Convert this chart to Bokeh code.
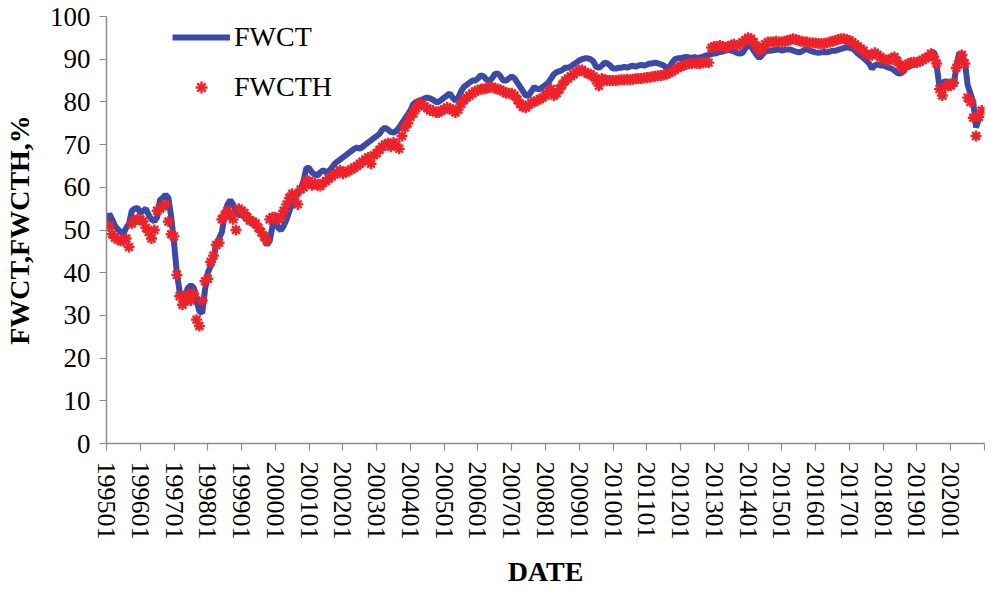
from bokeh.plotting import figure
from bokeh.models import Range1d, FixedTicker, Legend, LegendItem
from bokeh.embed import file_html
from bokeh.resources import INLINE

# ---- data (monthly, Jan 1995 .. Dec 2020) ----
fwct = [
    51.5, 53.8, 52.5, 51.0, 50.2, 49.5, 49.2, 50.5, 51.5, 54.5, 55.0, 55.2,   # 1995
    54.0, 54.5, 55.0, 53.5, 52.5, 52.0, 53.0, 57.0, 57.5, 58.3, 57.5, 53.0,   # 1996
    47.0, 40.0, 35.5, 34.5, 35.0, 36.5, 37.0, 36.5, 33.5, 31.0, 30.5, 36.0,   # 1997
    40.0, 41.5, 43.5, 46.5, 48.0, 49.5, 53.5, 56.0, 57.0, 56.0, 54.5, 53.5,   # 1998
    53.5, 53.0, 52.5, 52.0, 51.5, 51.0, 50.5, 49.5, 48.0, 46.5, 47.5, 51.0,   # 1999
    52.5, 50.5, 50.0, 51.0, 52.5, 54.5, 56.0, 57.5, 59.0, 59.5, 61.5, 64.5,   # 2000
    64.5, 63.5, 63.0, 62.8, 63.5, 64.0, 63.5, 63.8, 64.5, 65.5, 66.0, 66.5,   # 2001
    67.0, 67.5, 68.0, 68.5, 69.0, 69.3, 69.0, 69.5, 70.0, 70.5, 71.0, 71.5,   # 2002
    72.0, 72.5, 73.5, 74.0, 73.5, 73.0, 72.8, 73.2, 74.0, 75.0, 76.0, 77.0,   # 2003
    78.0, 79.5, 80.0, 80.3, 80.5, 80.8, 81.0, 80.8, 80.5, 80.0, 80.0, 80.5,   # 2004
    81.0, 81.5, 82.0, 81.0, 80.3, 81.0, 82.5, 83.5, 84.0, 84.5, 85.0, 85.0,   # 2005
    85.5, 86.2, 86.0, 85.2, 85.0, 85.5, 86.5, 86.7, 86.0, 85.0, 85.0, 85.5,   # 2006
    86.0, 85.5, 84.5, 83.5, 82.5, 81.5, 81.5, 82.5, 83.5, 83.0, 83.0, 83.5,   # 2007
    84.0, 84.5, 85.5, 86.5, 87.0, 87.2, 87.5, 88.0, 88.0, 88.3, 88.8, 89.2,   # 2008
    89.7, 90.0, 90.2, 90.2, 90.0, 89.5, 88.2, 88.0, 88.5, 89.2, 89.0, 88.5,   # 2009
    87.8, 87.8, 88.0, 88.0, 88.2, 88.0, 88.3, 88.5, 88.2, 88.5, 88.7, 88.5,   # 2010
    88.7, 89.0, 89.0, 89.2, 89.0, 88.8, 88.5, 88.0, 88.2, 89.2, 90.0, 90.2,   # 2011
    90.2, 90.4, 90.5, 90.4, 90.3, 90.5, 90.2, 90.4, 90.6, 90.9, 91.0, 91.2,   # 2012
    91.3, 91.5, 91.7, 91.8, 92.0, 92.2, 92.0, 91.8, 91.5, 91.3, 91.5, 92.5,   # 2013
    93.2, 93.0, 92.0, 91.0, 90.3, 91.0, 91.8, 92.0, 92.0, 92.1, 92.2, 92.3,   # 2014
    92.0, 92.2, 92.3, 92.3, 92.0, 91.8, 91.6, 91.8, 92.2, 92.3, 92.0, 91.8,   # 2015
    91.6, 91.5, 91.6, 91.7, 91.6, 91.8, 92.0, 92.0, 92.2, 92.4, 92.6, 92.8,   # 2016
    92.7, 92.5, 92.0, 91.3, 90.8, 90.3, 89.7, 89.0, 87.8, 88.5, 88.8, 88.5,   # 2017
    88.5, 88.3, 88.0, 87.8, 87.3, 86.8, 86.6, 87.0, 88.0, 88.2, 88.5, 88.8,   # 2018
    89.0, 89.3, 89.7, 90.3, 90.8, 91.5, 91.7, 88.5, 83.5, 84.0, 85.0, 84.5,   # 2019
    83.5, 84.0, 88.0, 91.5, 91.0, 89.5, 84.0, 82.0, 80.0, 74.0, 76.0, 78.0,   # 2020
]

fwcth = [
    51.0, 51.0, 49.0, 48.2, 47.8, 47.5, 47.5, 48.0, 46.0, 51.5, 52.2, 52.5,   # 1995
    52.5, 52.0, 50.5, 49.5, 48.0, 50.0, 54.5, 55.0, 55.5, 56.0, 52.0, 49.0,   # 1996
    48.5, 39.5, 34.5, 32.5, 33.5, 35.0, 33.5, 35.0, 29.0, 27.5, 33.5, 38.0,   # 1997
    38.6, 42.5, 44.0, 46.5, 47.0, 52.5, 53.5, 54.5, 53.5, 52.5, 50.0, 55.0,   # 1998
    54.5, 54.0, 53.0, 52.2, 52.0, 51.5, 50.5, 49.5, 48.5, 47.5, 52.5, 53.0,   # 1999
    53.0, 52.5, 53.0, 54.5, 56.0, 57.5, 58.5, 58.0, 56.0, 59.5, 60.0, 61.5,   # 2000
    61.5, 60.5, 61.0, 60.5, 60.3, 61.0, 61.5, 62.0, 62.5, 63.0, 63.5, 64.0,   # 2001
    63.2, 63.5, 63.8, 64.2, 64.6, 65.0, 65.5, 66.0, 66.5, 67.0, 65.5, 67.5,   # 2002
    68.0, 68.8, 69.5, 70.0, 70.3, 69.5, 70.5, 70.0, 69.0, 72.0, 74.0, 75.0,   # 2003
    76.5, 77.3, 78.5, 79.6, 79.5, 79.0, 78.5, 78.0, 78.0, 77.5, 77.5, 78.0,   # 2004
    78.2, 78.7, 78.5, 78.0, 77.5, 78.2, 79.5, 80.5, 81.0, 81.5, 82.0, 82.5,   # 2005
    82.7, 83.0, 83.0, 83.2, 83.4, 83.5, 83.2, 83.0, 82.8, 82.5, 82.0, 82.0,   # 2006
    82.0, 81.5, 80.5, 79.5, 78.8, 78.7, 79.3, 79.8, 80.0, 80.3, 80.7, 81.0,   # 2007
    81.5, 82.5, 83.0, 81.5, 82.0, 83.0, 84.0, 85.0, 85.5, 86.0, 86.5, 87.0,   # 2008
    87.4, 87.5, 87.0, 86.6, 86.5, 86.0, 85.0, 83.8, 85.5, 85.2, 85.0, 85.0,   # 2009
    85.0, 85.0, 85.1, 85.2, 85.2, 85.3, 85.2, 85.3, 85.4, 85.5, 85.5, 85.6,   # 2010
    85.7, 85.8, 85.9, 86.0, 86.1, 86.2, 86.3, 86.5, 86.8, 87.2, 87.5, 88.0,   # 2011
    88.3, 88.5, 88.8, 89.0, 89.0, 89.1, 89.0, 89.0, 89.2, 89.3, 89.2, 92.7,   # 2012
    93.0, 93.0, 93.2, 93.0, 92.8, 93.0, 93.3, 93.5, 93.2, 93.5, 94.0, 94.5,   # 2013
    95.0, 94.8, 94.0, 93.0, 92.0, 92.5, 93.5, 94.0, 94.0, 94.0, 94.2, 94.0,   # 2014
    94.0, 94.2, 94.4, 94.5, 94.8, 94.6, 94.3, 94.2, 94.0, 94.0, 93.8, 93.8,   # 2015
    93.8, 93.7, 93.6, 93.7, 93.8, 94.0, 94.2, 94.4, 94.6, 94.8, 94.8, 94.6,   # 2016
    94.4, 94.0, 93.5, 93.0, 92.5, 92.0, 91.2, 90.8, 91.0, 91.5, 91.0, 90.5,   # 2017
    90.0, 89.8, 89.7, 90.2, 90.5, 89.5, 88.5, 87.8, 88.5, 89.0, 89.2, 89.3,   # 2018
    89.2, 89.5, 89.8, 90.3, 90.5, 91.3, 90.5, 89.0, 83.0, 81.5, 83.5, 84.0,   # 2019
    83.8, 84.5, 88.0, 89.5, 91.0, 89.0, 81.0, 80.0, 76.3, 72.0, 76.5, 78.0,   # 2020
]

tick_labels = ["199501", "199601", "199701", "199801", "199901", "200001",
               "200101", "200201", "200301", "200401", "200501", "200601",
               "200701", "200801", "200901", "201001", "201101", "201201",
               "201301", "201401", "201501", "201601", "201701", "201801",
               "201901", "202001"]
y_ticks = [0, 10, 20, 30, 40, 50, 60, 70, 80, 90, 100]

series_names = ["FWCT", "FWCTH"]

# ---- figure ----
FONT = "Liberation Serif"
n = len(fwct)
xs = list(range(n))

p = figure(frame_width=878, frame_height=427,
           min_border_left=104, min_border_right=1,
           min_border_top=16, min_border_bottom=144,
           output_backend="svg", toolbar_location=None,
           x_range=Range1d(0, n), y_range=Range1d(0, 100))
p.outline_line_color = None
p.xgrid.visible = False
p.ygrid.visible = False
p.background_fill_color = "white"
p.border_fill_color = "white"

r1 = p.line(xs, fwct, line_color="#3B4AA6", line_width=6)
r2 = p.scatter(xs, fwcth, marker="asterisk", size=11,
               line_color="#EE2229", line_width=2.4)

# x axis
xt = list(range(0, n + 1, 12))
p.xaxis.ticker = FixedTicker(ticks=xt)
overrides = {}
for i, t in enumerate(xt):
    overrides[t] = tick_labels[i] if i < len(tick_labels) else ""
p.xaxis.major_label_overrides = overrides
p.xaxis.major_label_orientation = "vertical"
p.xaxis.axis_label = "DATE"

# y axis
p.yaxis.ticker = FixedTicker(ticks=y_ticks)
p.yaxis.axis_label = "FWCT,FWCTH,%"

for ax in (p.xaxis, p.yaxis):
    ax.axis_line_color = "#8C8C8C"
    ax.axis_line_width = 1.5
    ax.major_tick_line_color = "#8C8C8C"
    ax.major_tick_line_width = 1.2
    ax.major_tick_out = 7
    ax.major_tick_in = 0
    ax.minor_tick_line_color = None
    ax.major_label_text_font = FONT
    ax.major_label_text_color = "black"
    ax.axis_label_text_font = FONT
    ax.axis_label_text_font_size = "28px"
    ax.axis_label_text_font_style = "bold"
    ax.axis_label_text_color = "black"

p.xaxis.major_label_text_font_size = "26px"
p.yaxis.major_label_text_font_size = "27px"
p.xaxis.major_label_standoff = 11
p.yaxis.major_label_standoff = 9
p.xaxis.axis_label_standoff = 13
p.yaxis.axis_label_standoff = 12

legend = Legend(items=[LegendItem(label=series_names[0], renderers=[r1]),
                       LegendItem(label=series_names[1], renderers=[r2])],
                location=(66, 340))
legend.background_fill_alpha = 0
legend.border_line_color = None
legend.padding = 0
legend.margin = 0
legend.spacing = 18
legend.glyph_width = 58
legend.glyph_height = 30
legend.label_height = 30
legend.label_standoff = 4
legend.label_text_font = FONT
legend.label_text_font_size = "28px"
legend.label_text_color = "black"
p.add_layout(legend, "center")

open("out.html", "w").write(file_html(p, INLINE))
